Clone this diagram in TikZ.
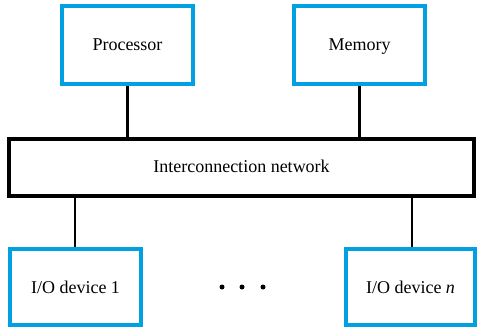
\documentclass[tikz,border=0pt]{standalone}
\usepackage{fontspec}
\setmainfont{Liberation Serif}
\definecolor{boxblue}{RGB}{0,160,227}
\begin{document}
\begin{tikzpicture}[x=1pt,y=-1pt,
  bluebox/.style={draw=boxblue,line width=4pt,fill=white,inner sep=0pt,text height=14pt,text depth=2pt,font=\fontsize{18}{20}\selectfont},
  netbox/.style={draw=black,line width=4pt,fill=white,inner sep=0pt,text height=13pt,text depth=3pt,font=\fontsize{18}{20}\selectfont},
  conn/.style={line width=2.8pt}]
\useasboundingbox (0,0) rectangle (478,328);
\node[bluebox,minimum width=131pt,minimum height=78pt] (proc) at (127.5,45) {Processor};
\node[bluebox,minimum width=131pt,minimum height=78pt] (mem) at (359.5,45) {Memory};
\node[netbox,minimum width=465pt,minimum height=57pt] (net) at (241.5,167.5) {Interconnection network};
\node[bluebox,minimum width=131pt,minimum height=76pt] (io1) at (75.5,287) {I/O device 1};
\node[bluebox,minimum width=129pt,minimum height=76pt] (ion) at (410.5,287) {I/O device \textit{n}};
\coordinate (c1) at (75,167.5);
\coordinate (c2) at (412,167.5);
\draw[conn] (proc.south) -- (proc.south |- net.north);
\draw[conn] (mem.south) -- (mem.south |- net.north);
\draw[conn] (c1 |- net.south) -- (c1 |- io1.north);
\draw[conn] (c2 |- net.south) -- (c2 |- ion.north);
\node[circle,fill=black,inner sep=0pt,minimum size=5pt] (d1) at (222,287) {};
\node[circle,fill=black,inner sep=0pt,minimum size=5pt] (d2) at (242,287) {};
\node[circle,fill=black,inner sep=0pt,minimum size=5pt] (d3) at (263,287) {};
\end{tikzpicture}
\end{document}
